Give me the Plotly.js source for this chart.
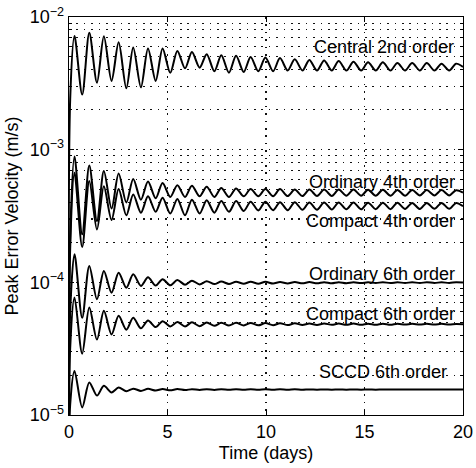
<!DOCTYPE html>
<html>
<head>
<meta charset="utf-8">
<script src="https://cdn.plot.ly/plotly-3.0.1.min.js"></script>
<style>
html,body{margin:0;padding:0;background:#fff;}
#chart{width:476px;height:468px;}
</style>
</head>
<body>
<div id="chart"></div>
<script>
// Time (days) of the sampled points: start, rise, then alternating peaks / troughs, end
var timeDays = [0, 0.06,
  0.28,0.67, 1.03,1.42, 1.77,2.16, 2.52,2.91, 3.26,3.65, 4.01,4.40, 4.75,5.14,
  5.50,5.89, 6.24,6.63, 6.99,7.38, 7.73,8.12, 8.48,8.87, 9.22,9.61, 9.97,10.36,
  10.71,11.10, 11.46,11.85, 12.20,12.59, 12.95,13.34, 13.69,14.08, 14.44,14.83,
  15.18,15.57, 15.93,16.32, 16.67,17.06, 17.42,17.81, 18.16,18.55, 18.91,19.30,
  19.65, 20.0];

var central2 = [3e-6, 2.4e-3,
  7.2e-3,2.6e-3, 7.6e-3,3.2e-3, 7.15e-3,3.3e-3, 6.45e-3,2.9e-3, 5.9e-3,2.95e-3, 5.8e-3,3.3e-3, 5.8e-3,3.8e-3,
  5.55e-3,4.1e-3, 5.45e-3,4.15e-3, 5.25e-3,3.9e-3, 5.15e-3,3.8e-3, 5.1e-3,3.85e-3, 5.0e-3,3.9e-3, 4.95e-3,3.9e-3,
  4.9e-3,3.95e-3, 4.8e-3,3.95e-3, 4.75e-3,3.95e-3, 4.7e-3,3.95e-3, 4.65e-3,3.95e-3, 4.6e-3,3.95e-3,
  4.55e-3,3.95e-3, 4.55e-3,3.95e-3, 4.5e-3,3.95e-3, 4.5e-3,3.95e-3, 4.5e-3,3.95e-3, 4.45e-3,3.95e-3,
  4.45e-3, 4.2e-3];

var ordinary4 = [3e-6, 2.2e-4,
  8.9e-4,2.3e-4, 7.6e-4,2.9e-4, 6.9e-4,3.6e-4, 6.6e-4,4.0e-4, 6.0e-4,4.2e-4, 5.75e-4,4.3e-4, 5.6e-4,4.4e-4,
  5.4e-4,4.4e-4, 5.35e-4,4.45e-4, 5.25e-4,4.4e-4, 5.15e-4,4.4e-4, 5.1e-4,4.45e-4, 5.05e-4,4.45e-4, 5.05e-4,4.45e-4,
  5.05e-4,4.47e-4, 5.0e-4,4.47e-4, 5.0e-4,4.48e-4, 5.0e-4,4.48e-4, 5.0e-4,4.5e-4, 5.0e-4,4.5e-4,
  4.98e-4,4.5e-4, 4.98e-4,4.5e-4, 4.97e-4,4.5e-4, 4.97e-4,4.52e-4, 4.96e-4,4.52e-4, 4.96e-4,4.52e-4,
  4.95e-4, 4.75e-4];

var compact4 = [3e-6, 1.8e-4,
  6.7e-4,1.85e-4, 5.8e-4,2.5e-4, 5.3e-4,2.95e-4, 5.05e-4,3.2e-4, 4.6e-4,3.35e-4, 4.45e-4,3.4e-4, 4.35e-4,3.3e-4,
  4.25e-4,3.2e-4, 4.2e-4,3.3e-4, 4.15e-4,3.35e-4, 4.1e-4,3.4e-4, 4.1e-4,3.45e-4, 4.05e-4,3.48e-4, 4.05e-4,3.5e-4,
  4.02e-4,3.5e-4, 4.02e-4,3.52e-4, 4.0e-4,3.53e-4, 4.0e-4,3.54e-4, 4.0e-4,3.55e-4, 4.0e-4,3.55e-4,
  3.98e-4,3.56e-4, 3.98e-4,3.56e-4, 3.98e-4,3.57e-4, 3.97e-4,3.57e-4, 3.97e-4,3.58e-4, 3.97e-4,3.58e-4,
  3.96e-4, 3.75e-4];

var ordinary6 = [3e-6, 6.0e-5,
  16.3e-5,5.4e-5, 13.3e-5,7.45e-5, 12.2e-5,8.35e-5, 11.8e-5,9.1e-5, 11.5e-5,9.4e-5, 10.9e-5,9.45e-5, 10.55e-5,9.5e-5,
  10.4e-5,9.6e-5, 10.3e-5,9.65e-5, 10.2e-5,9.7e-5, 10.15e-5,9.72e-5, 10.1e-5,9.75e-5, 10.1e-5,9.77e-5, 10.08e-5,9.8e-5,
  10.06e-5,9.82e-5, 10.05e-5,9.83e-5, 10.04e-5,9.84e-5, 10.03e-5,9.85e-5, 10.03e-5,9.86e-5, 10.02e-5,9.87e-5,
  10.02e-5,9.88e-5, 10.02e-5,9.88e-5, 10.01e-5,9.89e-5, 10.01e-5,9.89e-5, 10.01e-5,9.9e-5, 10.0e-5,9.9e-5,
  10.0e-5, 9.95e-5];

var compact6 = [3e-6, 3.2e-5,
  7.7e-5,2.9e-5, 6.45e-5,3.7e-5, 6.1e-5,4.05e-5, 5.6e-5,4.4e-5, 5.4e-5,4.5e-5, 5.15e-5,4.6e-5, 5.1e-5,4.65e-5,
  5.02e-5,4.65e-5, 5.0e-5,4.67e-5, 4.98e-5,4.7e-5, 4.96e-5,4.72e-5, 4.95e-5,4.73e-5, 4.94e-5,4.74e-5, 4.93e-5,4.75e-5,
  4.92e-5,4.76e-5, 4.91e-5,4.77e-5, 4.9e-5,4.77e-5, 4.9e-5,4.78e-5, 4.89e-5,4.78e-5, 4.89e-5,4.79e-5,
  4.88e-5,4.79e-5, 4.88e-5,4.79e-5, 4.88e-5,4.8e-5, 4.87e-5,4.8e-5, 4.87e-5,4.8e-5, 4.87e-5,4.8e-5,
  4.86e-5, 4.83e-5];

var sccd6 = [3e-6, 1.2e-5,
  2.15e-5,1.14e-5, 1.76e-5,1.40e-5, 1.66e-5,1.48e-5, 1.61e-5,1.51e-5, 1.58e-5,1.52e-5, 1.575e-5,1.53e-5, 1.57e-5,1.535e-5,
  1.568e-5,1.54e-5, 1.566e-5,1.543e-5, 1.565e-5,1.545e-5, 1.564e-5,1.547e-5, 1.563e-5,1.548e-5, 1.562e-5,1.55e-5, 1.562e-5,1.55e-5,
  1.561e-5,1.551e-5, 1.561e-5,1.551e-5, 1.56e-5,1.552e-5, 1.56e-5,1.552e-5, 1.56e-5,1.553e-5, 1.56e-5,1.553e-5,
  1.56e-5,1.553e-5, 1.56e-5,1.554e-5, 1.56e-5,1.554e-5, 1.56e-5,1.554e-5, 1.56e-5,1.555e-5, 1.56e-5,1.555e-5,
  1.56e-5, 1.557e-5];

var seriesNames = ["Central 2nd order", "Ordinary 4th order", "Compact 4th order",
                   "Ordinary 6th order", "Compact 6th order", "SCCD 6th order"];
var seriesValues = [central2, ordinary4, compact4, ordinary6, compact6, sccd6];

var xTickVals = [0, 5, 10, 15, 20];
var xTickText = ["0", "5", "10", "15", "20"];
var yTickVals = [1e-5, 1e-4, 1e-3, 1e-2];
var yTickText = ["10<sup>\u22125</sup>", "10<sup>\u22124</sup>", "10<sup>\u22123</sup>", "10<sup>\u22122</sup>"];
var minorDigits = [2, 3, 4, 5, 6, 7, 8, 9];

var minorVals = [];
yTickVals.slice(0, 3).forEach(function (d) {
  minorDigits.forEach(function (m) { minorVals.push(d * m); });
});

var FONT = '"Liberation Sans", Arial, Helvetica, sans-serif';
var FS = 18;

var traces = seriesValues.map(function (vals, i) {
  return {
    x: timeDays, y: vals, type: 'scatter', mode: 'lines',
    name: seriesNames[i],
    line: {color: '#000', width: 2, shape: 'spline', smoothing: 0.85},
    hoverinfo: 'skip'
  };
});

// label positions (x in days, y in log10 units)
var labelPos = [
  [19.65, -2.226], [19.7, -3.241], [19.7, -3.534],
  [19.7, -3.940], [19.7, -4.241], [19.3, -4.677]
];
var annotations = seriesNames.map(function (n, i) {
  return {
    text: n, x: labelPos[i][0], y: labelPos[i][1], xref: 'x', yref: 'y',
    xanchor: 'right', yanchor: 'middle', showarrow: false,
    font: {family: FONT, size: FS, color: '#000'}
  };
});

var gridDash = '1.5px,5.9px';

var layout = {
  width: 476, height: 468,
  margin: {l: 69, r: 13, t: 17, b: 53},
  paper_bgcolor: '#fff', plot_bgcolor: '#fff',
  showlegend: false,
  font: {family: FONT, size: FS, color: '#000'},
  xaxis: {
    range: [0, 20], tickvals: xTickVals, ticktext: xTickText,
    ticks: 'inside', ticklen: 5, tickcolor: '#000', tickwidth: 1,
    showline: true, linecolor: '#000', linewidth: 1.3, mirror: 'ticks',
    showgrid: true, gridcolor: '#111', gridwidth: 1.1, griddash: gridDash,
    zeroline: false,
    tickfont: {family: FONT, size: FS, color: '#000'},
    title: {text: 'Time (days)', font: {family: FONT, size: FS, color: '#000'}, standoff: 5}
  },
  yaxis: {
    type: 'log', range: [-5, -2], tickvals: yTickVals, ticktext: yTickText,
    ticks: 'inside', ticklen: 5, tickcolor: '#000', tickwidth: 1,
    showline: true, linecolor: '#000', linewidth: 1.3, mirror: 'ticks',
    showgrid: true, gridcolor: '#111', gridwidth: 1.1, griddash: gridDash,
    zeroline: false,
    minor: {tickvals: minorVals, ticks: 'inside', ticklen: 3, tickcolor: '#000',
            showgrid: true, gridcolor: '#111', gridwidth: 1.1, griddash: gridDash},
    tickfont: {family: FONT, size: FS, color: '#000'},
    title: {text: 'Peak Error Velocity (m/s)', font: {family: FONT, size: FS, color: '#000'}, standoff: 6}
  },
  annotations: annotations
};

Plotly.newPlot('chart', traces, layout, {staticPlot: true, displayModeBar: false});
</script>
</body>
</html>
